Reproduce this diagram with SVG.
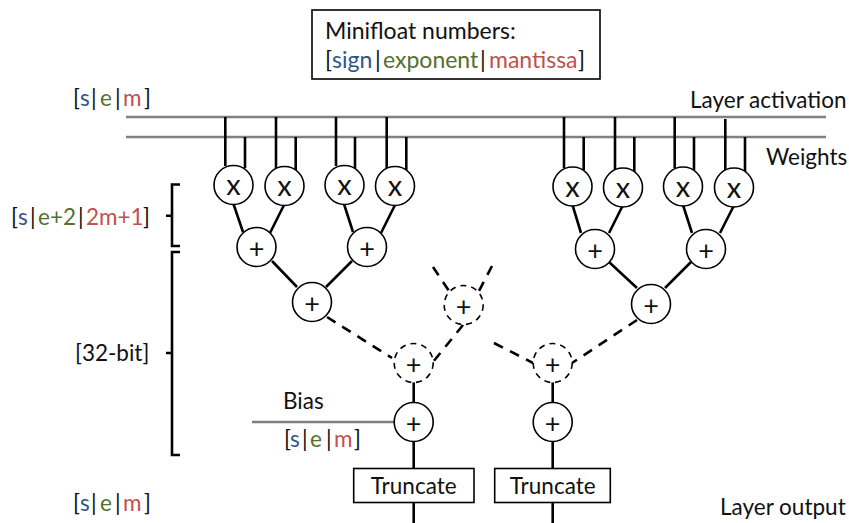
<svg xmlns="http://www.w3.org/2000/svg" width="849" height="523" viewBox="0 0 849 523">
<style>
text{font-family:"Lato","Carlito","Liberation Sans",sans-serif;font-size:22.500px;fill:#111}
.lg{font-size:23px}
.s{fill:#2f5587}.e{fill:#54702f}.m{fill:#c0504d}
.w{stroke:#000;stroke-width:2.6;fill:none}
.g{stroke:#808080;stroke-width:2.6;fill:none}
.d{stroke:#000;stroke-width:2.6;fill:none;stroke-dasharray:10 8}
.n{fill:#fff;stroke:#000;stroke-width:1.6}
.nd{fill:#fff;stroke:#000;stroke-width:1.6;stroke-dasharray:6 5}
.b{fill:#fff;stroke:#000;stroke-width:1.6}
.o{text-anchor:middle;font-size:29px}
.p{text-anchor:middle;font-size:27px}
</style>
<g id="connectors">
<path class="g" d="M126 117H826M126 137H826M252 422H394"/>
<path class="w" d="M225.300 117V166M245 137V168M276 117V168M295.700 137V170M336 117V166M355 137V168M386.700 117V168M406.300 137V170"/>
<path class="w" d="M564 117V168M583.700 137V170M615 117V170M634.300 137V172M674.700 117V168M694 137V170M725.300 119V170M745 137V172"/>
<path class="w" d="M233.500 204L243 232M284 205L270 233M344 204L353 232M395 205L381 233M272 261L297 287M352 261L326 287"/>
<path class="w" d="M572.500 205L581 233M623 205L609 233M683 205L692 233M733.700 206L720 233M609 262L637 288M691 262L665 288"/>
<path class="w" d="M413.700 382V403M552.700 382V403M413.700 441V469M552.700 441V469M413.700 502V523M552.700 502V523"/>
<path class="d" d="M327 317L392 358M433 267L449 291M492 266L479 291M463 325L433 362M494 343L533 363M637 320L572 363"/>
<path class="w" d="M180 184.500H172V246H180M166 215.700H172M180 252H172V455H180M166 353H172"/>
</g>
<g id="legend">
<rect class="b" x="312" y="10" width="288" height="69"/>
<text class="lg" x="325" y="39">Minifloat numbers:</text>
<text class="lg" y="68"><tspan x="325">[</tspan><tspan class="s" x="332">sign</tspan><tspan x="375">|</tspan><tspan class="e" x="383">exponent</tspan><tspan x="480">|</tspan><tspan class="m" x="489">mantissa</tspan><tspan x="578">]</tspan></text>
</g>
<g id="labels">
<text y="106"><tspan x="73">[</tspan><tspan class="s" x="80">s</tspan><tspan x="91">|</tspan><tspan class="e" x="100">e</tspan><tspan x="115">|</tspan><tspan class="m" x="123">m</tspan><tspan x="144">]</tspan></text>
<text x="690" y="108">Layer activation</text>
<text x="766" y="165">Weights</text>
<text y="225"><tspan x="11">[</tspan><tspan class="s" x="18">s</tspan><tspan x="30">|</tspan><tspan class="e" x="38">e+2</tspan><tspan x="78">|</tspan><tspan class="m" x="86">2m+1</tspan><tspan x="143">]</tspan></text>
<text x="75" y="361">[32-bit]</text>
<text x="283" y="409">Bias</text>
<text y="447"><tspan x="284">[</tspan><tspan class="s" x="290">s</tspan><tspan x="302">|</tspan><tspan class="e" x="310">e</tspan><tspan x="326">|</tspan><tspan class="m" x="334">m</tspan><tspan x="354">]</tspan></text>
<text y="511"><tspan x="73">[</tspan><tspan class="s" x="80">s</tspan><tspan x="91">|</tspan><tspan class="e" x="100">e</tspan><tspan x="115">|</tspan><tspan class="m" x="123">m</tspan><tspan x="144">]</tspan></text>
<text x="720" y="515">Layer output</text>
</g>
<g id="mul1"><circle class="n" cx="233.500" cy="185" r="19.500"/><text class="o" x="233.500" y="195">x</text></g>
<g id="mul2"><circle class="n" cx="284.500" cy="186" r="19.500"/><text class="o" x="284.500" y="196">x</text></g>
<g id="mul3"><circle class="n" cx="344.500" cy="185" r="19.500"/><text class="o" x="344.500" y="195">x</text></g>
<g id="mul4"><circle class="n" cx="395" cy="186" r="19.500"/><text class="o" x="395" y="196">x</text></g>
<g id="mul5"><circle class="n" cx="572.500" cy="186.500" r="19.500"/><text class="o" x="572.500" y="196.500">x</text></g>
<g id="mul6"><circle class="n" cx="623" cy="187.500" r="19.500"/><text class="o" x="623" y="197.500">x</text></g>
<g id="mul7"><circle class="n" cx="683" cy="186.500" r="19.500"/><text class="o" x="683" y="196.500">x</text></g>
<g id="mul8"><circle class="n" cx="734" cy="187.500" r="19.500"/><text class="o" x="734" y="197.500">x</text></g>
<g id="add1"><circle class="n" cx="256.500" cy="247" r="19.500"/><text class="p" x="256.500" y="258">+</text></g>
<g id="add2"><circle class="n" cx="367" cy="247" r="19.500"/><text class="p" x="367" y="258">+</text></g>
<g id="add3"><circle class="n" cx="595" cy="249" r="19.500"/><text class="p" x="595" y="260">+</text></g>
<g id="add4"><circle class="n" cx="706" cy="249" r="19.500"/><text class="p" x="706" y="260">+</text></g>
<g id="add5"><circle class="n" cx="312" cy="302" r="19.500"/><text class="p" x="312" y="313">+</text></g>
<g id="add6"><circle class="n" cx="651" cy="304" r="19.500"/><text class="p" x="651" y="315">+</text></g>
<g id="add7"><circle class="nd" cx="463.700" cy="305" r="19.500"/><text class="p" x="463.700" y="316">+</text></g>
<g id="add8"><circle class="nd" cx="413.700" cy="363" r="19.500"/><text class="p" x="413.700" y="374">+</text></g>
<g id="add9"><circle class="nd" cx="552.700" cy="363" r="19.500"/><text class="p" x="552.700" y="374">+</text></g>
<g id="add10"><circle class="n" cx="413.700" cy="422" r="19.500"/><text class="p" x="413.700" y="433">+</text></g>
<g id="add11"><circle class="n" cx="552.700" cy="422" r="19.500"/><text class="p" x="552.700" y="433">+</text></g>
<g id="trunc1"><rect class="b" x="353.700" y="468.500" width="120.300" height="34"/><text x="413.700" y="494" text-anchor="middle">Truncate</text></g>
<g id="trunc2"><rect class="b" x="494.700" y="468.500" width="115.600" height="34"/><text x="552.700" y="494" text-anchor="middle">Truncate</text></g>
</svg>
